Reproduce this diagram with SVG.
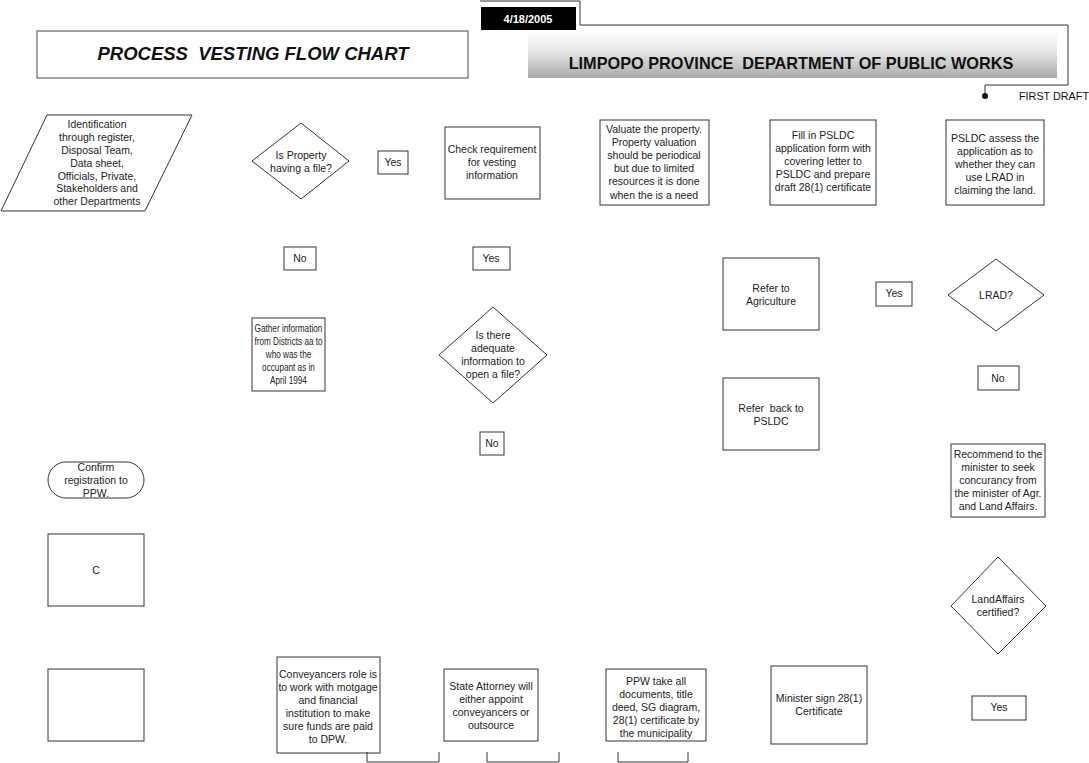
<svg xmlns="http://www.w3.org/2000/svg" width="1089" height="763" viewBox="0 0 1089 763">
<defs>
<linearGradient id="hdr" x1="0" y1="0" x2="0" y2="1">
<stop offset="0" stop-color="#ffffff"/>
<stop offset="0.45" stop-color="#e6e6e6"/>
<stop offset="1" stop-color="#a9a9a9"/>
</linearGradient>
<style>
.n{fill:#fff;stroke:#333;stroke-width:1}
.t{font-family:"Liberation Sans",Arial,sans-serif;font-size:10.5px;fill:#222;text-anchor:middle}
.ln{fill:none;stroke:#333;stroke-width:1}
</style>
</defs>
<rect width="1089" height="763" fill="#fff"/>

<g id="header">
<polyline class="ln" points="480,1 580,1 580,25 1068,25 1068,85 985,85 985,96" stroke="#555" stroke-width="1.5"/>
<circle cx="985" cy="96" r="3" fill="#111"/>
<rect x="528" y="30" width="529" height="48" fill="url(#hdr)"/>
<text x="791" y="69" font-family="Liberation Sans,Arial,sans-serif" font-size="16.3" font-weight="bold" fill="#111" text-anchor="middle" xml:space="preserve">LIMPOPO PROVINCE  DEPARTMENT OF PUBLIC WORKS</text>
<rect x="481" y="7" width="95" height="23" fill="#000"/>
<text x="528" y="23" font-family="Liberation Sans,Arial,sans-serif" font-size="11" font-weight="bold" fill="#fff" text-anchor="middle">4/18/2005</text>
<text x="1019" y="100" font-family="Liberation Sans,Arial,sans-serif" font-size="10.8" fill="#111">FIRST DRAFT</text>
</g>

<g id="title">
<rect x="37" y="31" width="431" height="47" fill="#fff" stroke="#666" stroke-width="1.2"/>
<text x="253" y="60" font-family="Liberation Sans,Arial,sans-serif" font-size="18.5" font-weight="bold" font-style="italic" fill="#111" text-anchor="middle" xml:space="preserve">PROCESS  VESTING FLOW CHART</text>
</g>

<g id="identification">
<polygon class="n" points="47,115 192,115 145,211 1,211"/>
<text class="t"><tspan x="97" y="128">Identification</tspan><tspan x="97" y="141">through register,</tspan><tspan x="97" y="154">Disposal Team,</tspan><tspan x="97" y="167">Data sheet,</tspan><tspan x="97" y="180">Officials, Private,</tspan><tspan x="97" y="192">Stakeholders and</tspan><tspan x="97" y="205">other Departments</tspan></text>
</g>

<g id="has-file">
<polygon class="n" points="301,123 349,161 301,199 252,161"/>
<text class="t"><tspan x="301" y="159">Is Property</tspan><tspan x="301" y="172">having a file?</tspan></text>
</g>

<g id="yes1">
<rect class="n" x="378" y="151" width="30" height="23"/>
<text class="t" x="393" y="166">Yes</text>
</g>

<g id="check-req">
<rect class="n" x="445" y="127" width="95" height="72"/>
<text class="t"><tspan x="492" y="153">Check requirement</tspan><tspan x="492" y="166">for vesting</tspan><tspan x="492" y="179">information</tspan></text>
</g>

<g id="valuate">
<rect class="n" x="600" y="120" width="109" height="85"/>
<text class="t" font-size="11"><tspan x="654" y="133">Valuate the property.</tspan><tspan x="654" y="146">Property valuation</tspan><tspan x="654" y="159">should be periodical</tspan><tspan x="654" y="172">but due to limited</tspan><tspan x="654" y="185">resources it is done</tspan><tspan x="654" y="199">when the is a need</tspan></text>
</g>

<g id="fill-pslcd">
<rect class="n" x="770" y="120" width="106" height="85"/>
<text class="t"><tspan x="823" y="139">Fill in PSLDC</tspan><tspan x="823" y="152">application form with</tspan><tspan x="823" y="165">covering letter to</tspan><tspan x="823" y="178">PSLDC and prepare</tspan><tspan x="823" y="191">draft 28(1) certificate</tspan></text>
</g>

<g id="pslcd-assess">
<rect class="n" x="946" y="120" width="98" height="85"/>
<text class="t"><tspan x="995" y="142">PSLDC assess the</tspan><tspan x="995" y="155">application as to</tspan><tspan x="995" y="168">whether they can</tspan><tspan x="995" y="181">use LRAD in</tspan><tspan x="995" y="194">claiming the land.</tspan></text>
</g>

<g id="no1">
<rect class="n" x="284" y="247" width="32" height="23"/>
<text class="t" x="300" y="262">No</text>
</g>

<g id="yes2">
<rect class="n" x="473" y="247" width="37" height="23"/>
<text class="t" x="491" y="262">Yes</text>
</g>

<g id="gather">
<rect class="n" x="252" y="318" width="73" height="73"/>
<text class="t" transform="translate(288.5,0) scale(0.78,1) translate(-288.5,0)"><tspan x="288.5" y="332">Gather information</tspan><tspan x="288.5" y="345">from Districts aa to</tspan><tspan x="288.5" y="358">who was the</tspan><tspan x="288.5" y="371">occupant as in</tspan><tspan x="288.5" y="384">April 1994</tspan></text>
</g>

<g id="adequate">
<polygon class="n" points="493,307 547,355 493,403 439,355"/>
<text class="t"><tspan x="493" y="339">Is there</tspan><tspan x="493" y="352">adequate</tspan><tspan x="493" y="365">information to</tspan><tspan x="493" y="378">open a file?</tspan></text>
</g>

<g id="no2">
<rect class="n" x="480" y="432" width="24" height="23"/>
<text class="t" x="492" y="447">No</text>
</g>

<g id="refer-agri">
<rect class="n" x="723" y="258" width="96" height="72"/>
<text class="t"><tspan x="771" y="292">Refer to</tspan><tspan x="771" y="305">Agriculture</tspan></text>
</g>

<g id="yes3">
<rect class="n" x="876" y="282" width="36" height="24"/>
<text class="t" x="894" y="297">Yes</text>
</g>

<g id="lrad">
<polygon class="n" points="996,259 1044,295 996,331 948,295"/>
<text class="t" x="996" y="299">LRAD?</text>
</g>

<g id="no3">
<rect class="n" x="978" y="366" width="41" height="24"/>
<text class="t" x="998" y="382">No</text>
</g>

<g id="refer-back">
<rect class="n" x="723" y="378" width="96" height="72"/>
<text class="t" xml:space="preserve"><tspan x="771" y="412">Refer  back to</tspan><tspan x="771" y="425">PSLDC</tspan></text>
</g>

<g id="recommend">
<rect class="n" x="951" y="444" width="94" height="73"/>
<text class="t"><tspan x="998" y="458">Recommend to the</tspan><tspan x="998" y="471">minister to seek</tspan><tspan x="998" y="484">concurancy from</tspan><tspan x="998" y="497">the minister of Agr.</tspan><tspan x="998" y="510">and Land Affairs.</tspan></text>
</g>

<g id="confirm">
<rect class="n" x="48" y="462" width="96" height="36" rx="18" ry="18"/>
<text class="t"><tspan x="96" y="471">Confirm</tspan><tspan x="96" y="484">registration to</tspan><tspan x="96" y="497">PPW.</tspan></text>
</g>

<g id="c-box">
<rect class="n" x="48" y="534" width="96" height="72"/>
<text class="t" x="96" y="574">C</text>
</g>

<g id="empty-box">
<rect class="n" x="48" y="669" width="96" height="72"/>
</g>

<g id="landaffairs">
<polygon class="n" points="998,557 1046,606 998,654 951,606"/>
<text class="t"><tspan x="998" y="603">LandAffairs</tspan><tspan x="998" y="616">certified?</tspan></text>
</g>

<g id="yes4">
<rect class="n" x="972" y="696" width="54" height="24"/>
<text class="t" x="999" y="711">Yes</text>
</g>

<g id="minister">
<rect class="n" x="771" y="666" width="96" height="78"/>
<text class="t" font-size="11"><tspan x="819" y="702">Minister sign 28(1)</tspan><tspan x="819" y="715">Certificate</tspan></text>
</g>

<g id="conveyancers">
<rect class="n" x="277" y="657" width="103" height="96"/>
<text class="t"><tspan x="328" y="678">Conveyancers role is</tspan><tspan x="328" y="691">to work with motgage</tspan><tspan x="328" y="704">and financial</tspan><tspan x="328" y="717">institution to make</tspan><tspan x="328" y="730">sure funds are paid</tspan><tspan x="328" y="743">to DPW.</tspan></text>
</g>

<g id="state-attorney">
<rect class="n" x="444" y="669" width="94" height="72"/>
<text class="t"><tspan x="491" y="690">State Attorney will</tspan><tspan x="491" y="703">either appoint</tspan><tspan x="491" y="716">conveyancers or</tspan><tspan x="491" y="729">outsource</tspan></text>
</g>

<g id="ppw">
<rect class="n" x="606" y="669" width="100" height="72"/>
<text class="t"><tspan x="656" y="685">PPW take all</tspan><tspan x="656" y="698">documents, title</tspan><tspan x="656" y="711">deed, SG diagram,</tspan><tspan x="656" y="724">28(1) certificate by</tspan><tspan x="656" y="737">the municipality</tspan></text>
</g>

<g id="connectors">
<polyline class="ln" points="367,752 367,762 439,762 439,752"/>
<polyline class="ln" points="487,752 487,762 559,762 559,752"/>
<polyline class="ln" points="618,752 618,762 688,762 688,752"/>
</g>
</svg>
